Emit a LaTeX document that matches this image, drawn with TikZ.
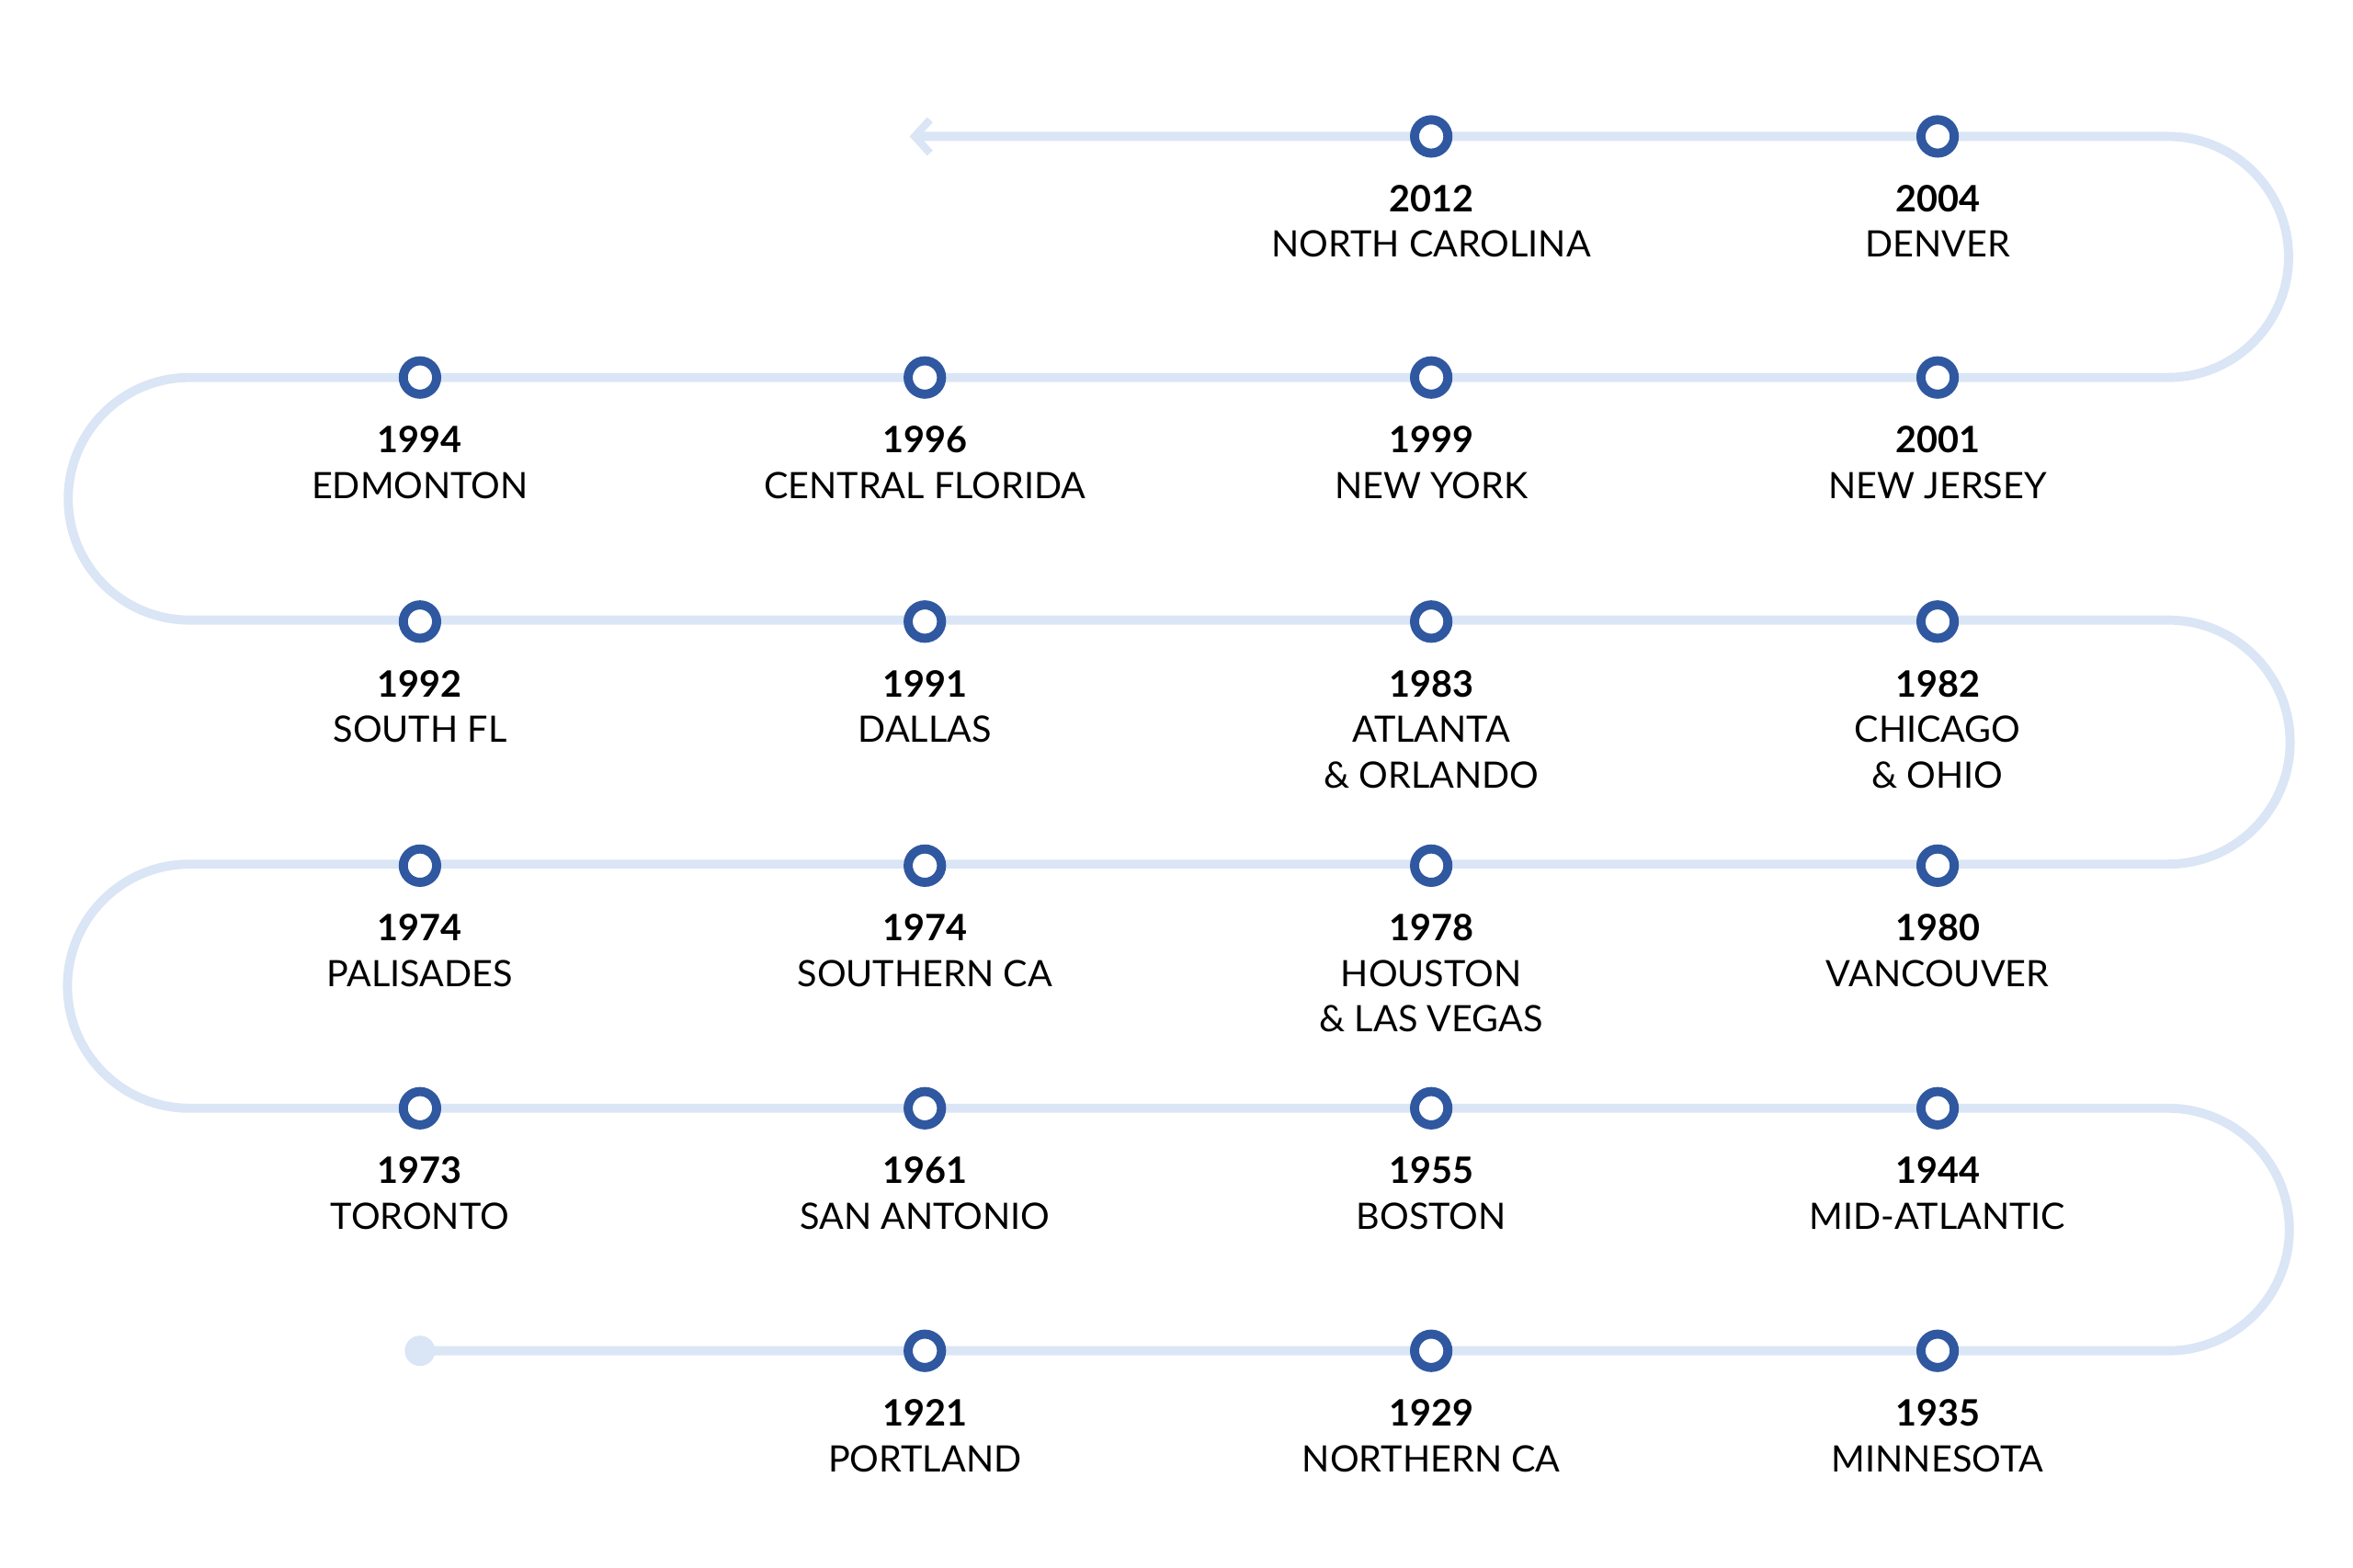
\documentclass[tikz,border=0pt]{standalone}
\usepackage{fontspec}
\setmainfont{Lato}
\usetikzlibrary{arrows.meta}
\definecolor{trk}{RGB}{218,229,245}
\definecolor{dotc}{RGB}{47,88,160}
\tikzset{
 track/.style={draw=trk,line width=6pt},
 stop/.style={circle,draw=dotc,fill=white,line width=6pt,minimum size=22pt,inner sep=0pt},
 lbl/.style={anchor=north,align=center,font=\fontsize{24}{30}\selectfont,inner sep=0pt}
}
\begin{document}
\begin{tikzpicture}[x=1pt,y=1pt]
\useasboundingbox (0,0) rectangle (1552,1034);
% rows in y-up coords: 944,785,624,463,303,143
\coordinate (s) at (277,143);
\draw[track,-{Straight Barb[length=10pt,width=22pt,line width=5pt]}]
 (s) -- (1430,143) arc[start angle=-90,end angle=90,radius=80]
 -- (125,303) arc[start angle=270,end angle=90,radius=80.5]
 -- (1430,464) arc[start angle=-90,end angle=90,radius=80.5]
 -- (125,625) arc[start angle=270,end angle=90,radius=80]
 -- (1430,785) arc[start angle=-90,end angle=90,radius=79.5]
 -- (600,944);
\fill[trk] (s) circle (10);
\foreach \nm/\x/\y/\yr/\pl in {
 a/610/143/1921/PORTLAND, b/944/143/1929/NORTHERN CA, c/1278/143/1935/MINNESOTA,
 d/277/303/1973/TORONTO, e/610/303/1961/SAN ANTONIO, f/944/303/1955/BOSTON, g/1278/303/1944/MID-ATLANTIC,
 h/277/463/1974/PALISADES, i/610/463/1974/SOUTHERN CA, j/944/463/1978/{HOUSTON\\\& LAS VEGAS}, k/1278/463/1980/VANCOUVER,
 l/277/624/1992/SOUTH FL, m/610/624/1991/DALLAS, n/944/624/1983/{ATLANTA\\\& ORLANDO}, o/1278/624/1982/{CHICAGO\\\& OHIO},
 p/277/785/1994/EDMONTON, q/610/785/1996/CENTRAL FLORIDA, r/944/785/1999/NEW YORK, t/1278/785/2001/NEW JERSEY,
 u/944/944/2012/NORTH CAROLINA, v/1278/944/2004/DENVER}
{
 \node[stop] (\nm) at (\x,\y) {};
 \node[lbl] (\nm l) at (\x,\y-32) {\textbf{\yr}\\\pl};
}
\end{tikzpicture}
\end{document}
